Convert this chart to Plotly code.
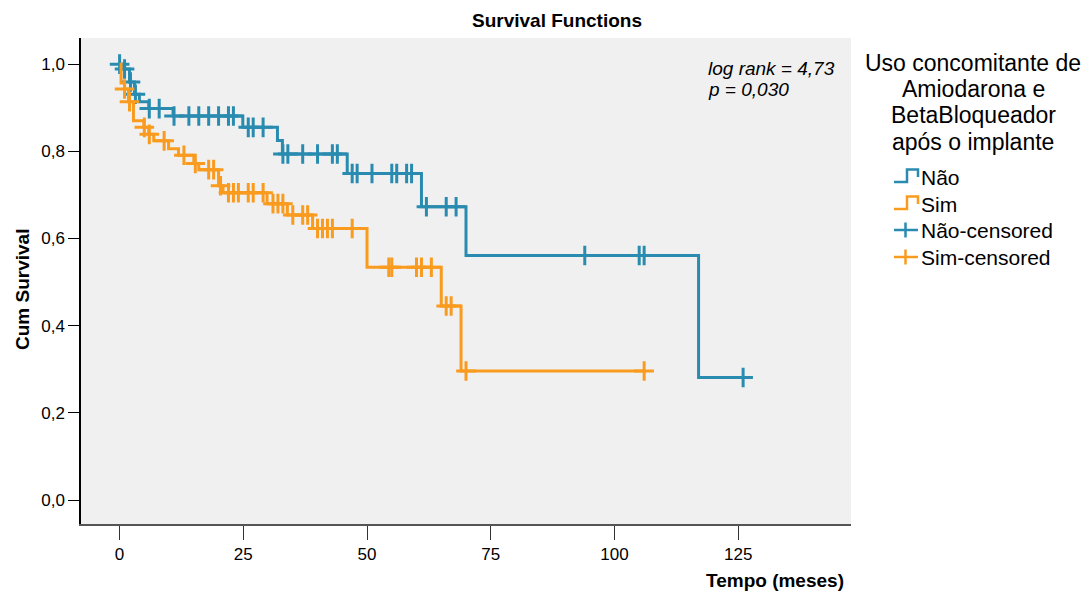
import numpy as np
import plotly.graph_objects as go

# ---------------- data ----------------
nao_event_t = [0.8, 2.0, 3.0, 4.0, 5.9, 10.8, 24.9, 31.9, 32.9, 46.0, 61.0, 70.0, 117.0]
nao_surv = [0.989, 0.959, 0.931, 0.914, 0.898, 0.881, 0.855, 0.825, 0.794, 0.749, 0.673, 0.561, 0.281]
nao_cens_t = [0, 1.0, 2.2, 3.2, 6.0, 8.0, 11, 14, 16, 18, 20, 22, 23, 26, 27, 29, 33, 34, 37,
              40, 43, 44, 47, 48, 51, 55, 56, 58, 59, 62, 66, 68, 94, 105, 106, 126]

sim_event_t = [0.3, 1.0, 1.8, 2.8, 4.9, 5.9, 6.9, 9.9, 11.9, 15.0, 16.0, 20.0, 20.9, 29.8,
               33.9, 39.0, 50.0, 65.0, 69.0]
sim_surv = [0.957, 0.943, 0.914, 0.870, 0.855, 0.839, 0.824, 0.806, 0.791, 0.772, 0.758,
            0.721, 0.705, 0.680, 0.654, 0.623, 0.534, 0.445, 0.296]
sim_cens_t = [1.0, 2.0, 5.0, 6.0, 9.0, 13.0, 15.3, 18.0, 19.0, 20.4, 22, 23, 24, 26, 27, 29,
              31, 32, 33, 35, 37, 38, 40, 41, 42, 43, 47, 54.4, 55, 60, 61, 63, 66, 67, 70, 106]

x_ticks = [0, 25, 50, 75, 100, 125]
y_ticks = [0.0, 0.2, 0.4, 0.6, 0.8, 1.0]

group_names = ["Não", "Sim"]
legend_title_lines = ["Uso concomitante de", "Amiodarona e", "BetaBloqueador", "após o implante"]
stats_lines = ["log rank = 4,73", "p = 0,030"]

BLUE = "#2a8bb0"
ORANGE = "#f99b1e"

W, H = 1089, 592
L, R, T, B = 81, 238, 38, 68


def surv_at(t, ev_t, ev_s):
    s = 1.0
    for et, es in zip(ev_t, ev_s):
        if et <= t:
            s = es
    return s


def step_xy(ev_t, ev_s, cens_t):
    xs = [0.0] + list(ev_t)
    ys = [1.0] + list(ev_s)
    end = max(max(cens_t), max(ev_t))
    xs.append(end)
    ys.append(ys[-1])
    return xs, ys


fig = go.Figure()

for ev_t, ev_s, cens, col, name in [
    (nao_event_t, nao_surv, nao_cens_t, BLUE, group_names[0]),
    (sim_event_t, sim_surv, sim_cens_t, ORANGE, group_names[1]),
]:
    xs, ys = step_xy(ev_t, ev_s, cens)
    fig.add_trace(go.Scatter(x=xs, y=ys, mode="lines", line=dict(color=col, width=3, shape="hv"),
                             name=name, showlegend=False, hoverinfo="skip"))
    cy = [surv_at(t, ev_t, ev_s) for t in cens]
    fig.add_trace(go.Scatter(x=cens, y=cy, mode="markers",
                             marker=dict(symbol="cross-thin", size=14, color=col,
                                         line=dict(color=col, width=3)),
                             name=name + "-censored", showlegend=False, hoverinfo="skip"))


def px_x(px):
    return (px - L) / (W - L - R)


def px_y(py):
    return (H - B - py) / (H - T - B)


shapes = []
annotations = []

# custom legend icons
leg_rows = [177, 204, 230, 257]
for i, (col, yc) in enumerate(zip([BLUE, ORANGE], leg_rows[:2])):
    pts = [(894, yc + 5), (907, yc + 5), (907, yc - 7.5), (918, yc - 7.5), (918, yc)]
    path = "M " + " L ".join(f"{px_x(a)},{px_y(b)}" for a, b in pts)
    shapes.append(dict(type="path", xref="paper", yref="paper", path=path,
                       line=dict(color=col, width=2.5)))
for col, yc in zip([BLUE, ORANGE], leg_rows[2:]):
    shapes.append(dict(type="line", xref="paper", yref="paper", x0=px_x(894), x1=px_x(918),
                       y0=px_y(yc), y1=px_y(yc), line=dict(color=col, width=2.5)))
    shapes.append(dict(type="line", xref="paper", yref="paper", x0=px_x(905.5), x1=px_x(905.5),
                       y0=px_y(yc - 7.5), y1=px_y(yc + 7.5), line=dict(color=col, width=2.5)))

leg_labels = [group_names[0], group_names[1], group_names[0] + "-censored", group_names[1] + "-censored"]
for lab, yc in zip(leg_labels, leg_rows):
    annotations.append(dict(text=lab, xref="paper", yref="paper", x=px_x(919), y=px_y(yc),
                            xanchor="left", yanchor="middle", showarrow=False,
                            font=dict(size=21, color="#000000")))

for line, yc in zip(legend_title_lines, [63, 89, 115, 142]):
    annotations.append(dict(text=line, xref="paper", yref="paper", x=px_x(973), y=px_y(yc),
                            xanchor="center", yanchor="middle", align="center", showarrow=False,
                            font=dict(size=23, color="#000000")))

for line, yc in zip(stats_lines, [68, 89]):
    annotations.append(dict(text="<i>" + line + "</i>", xref="paper", yref="paper", x=px_x(706),
                            y=px_y(yc), xanchor="left", yanchor="middle", align="left",
                            showarrow=False, font=dict(size=19, color="#000000")))

annotations.append(dict(text="<b>Survival Functions</b>", xref="paper", yref="paper",
                        x=px_x(557), y=px_y(20), xanchor="center", yanchor="middle",
                        showarrow=False, font=dict(size=19, color="#000000")))

annotations.append(dict(text="<b>Tempo (meses)</b>", xref="paper", yref="paper",
                        x=px_x(846), y=px_y(580), xanchor="right", yanchor="middle",
                        showarrow=False, font=dict(size=19, color="#000000")))

annotations.append(dict(text="<b>Cum Survival</b>", xref="paper", yref="paper",
                        x=px_x(22), y=px_y(290), xanchor="center", yanchor="middle",
                        textangle=-90, showarrow=False, font=dict(size=19, color="#000000")))

fig.update_layout(
    width=W, height=H,
    margin=dict(l=L, r=R, t=T, b=B, pad=0),
    paper_bgcolor="white",
    plot_bgcolor="#f0f0f0",
    font=dict(family="Liberation Sans, Arial, sans-serif", size=16, color="#000000"),
    separators=",.",
    showlegend=False,
    shapes=shapes,
    annotations=annotations,
    xaxis=dict(range=[-7.8, 147.8], tickvals=x_ticks, ticks="outside", ticklen=14,
               tickcolor="#333333", tickwidth=1, showline=True, linecolor="#555555", linewidth=1.5,
               showgrid=False, zeroline=False, tickfont=dict(size=17)),
    yaxis=dict(range=[-0.055, 1.06], tickvals=y_ticks, tickformat=".1f", ticks="outside",
               ticklen=11, tickcolor="#000000", tickwidth=1, showline=True, linecolor="#000000",
               linewidth=1.5, showgrid=False, zeroline=False, tickfont=dict(size=17)),
)

fig.write_html("out.html")
